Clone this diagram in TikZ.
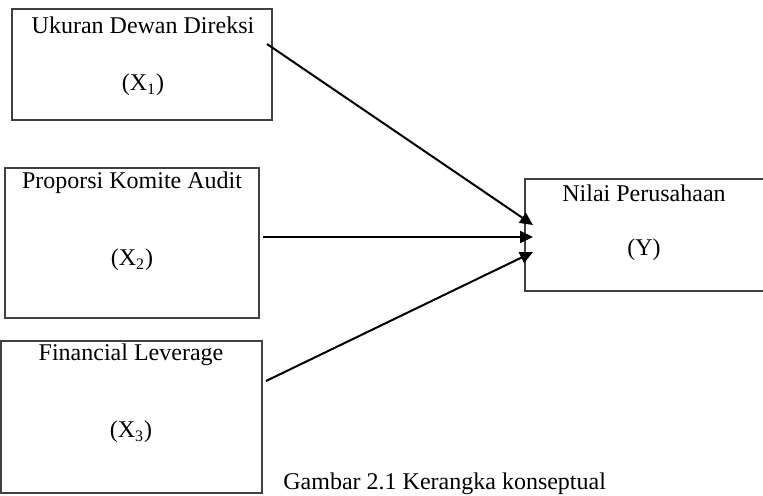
\documentclass[tikz,border=0pt]{standalone}
\usepackage{fontspec}
\setmainfont{Liberation Serif}
\usepackage{xcolor}
\usepackage{tikz}
\usetikzlibrary{arrows}
\usetikzlibrary{arrows.meta}

\begin{document}
\begin{tikzpicture}[x=0.5pt, y=-0.5pt,
    box/.style={draw=black!75, line width=0.7pt, rectangle, inner sep=0pt},
    lbl/.style={font=\fontsize{12}{14}\selectfont, inner sep=0pt},
    arr/.style={line width=1pt, black, -{Triangle[length=6.5pt, width=6pt]}}]
    \useasboundingbox (0,0) rectangle (763,496);
    % variabel independen
    \begin{scope}
      \node[box, minimum width=130pt, minimum height=55.5pt] (x1) at (142,64.5) {};
      \node[lbl] (x1t) at (143,25) {Ukuran Dewan Direksi};
      \node[lbl] (x1s) at (143,85) {(X\textsubscript{1})};
      \node[box, minimum width=127pt, minimum height=75pt] (x2) at (132,243) {};
      \node[lbl] (x2t) at (132,183) {Proporsi Komite Audit};
      \node[lbl] (x2s) at (132,260) {(X\textsubscript{2})};
      \node[box, minimum width=130.5pt, minimum height=76pt] (x3) at (131.5,417) {};
      \node[lbl] (x3t) at (131,355) {Financial Leverage};
      \node[lbl] (x3s) at (131,432) {(X\textsubscript{3})};
    \end{scope}
    % variabel dependen
    \begin{scope}
      \begin{scope}
        \clip (0,0) rectangle (763,496);
        \node[box, minimum width=122.5pt, minimum height=56pt] (y) at (647.5,235) {};
      \end{scope}
      \node[lbl] (yt) at (644,193) {Nilai Perusahaan};
      \node[lbl] (ys) at (644,250) {(Y)};
    \end{scope}
    % panah
    \coordinate (a1) at (267,44);
    \coordinate (a2) at (263,237);
    \coordinate (a3) at (266,381);
    \coordinate (b1) at (533,225);
    \coordinate (b2) at (533,237);
    \coordinate (b3) at (533,252);
    \draw[arr] (a1) -- (b1);
    \draw[arr] (a2) -- (b2);
    \draw[arr] (a3) -- (b3);
    \node[lbl, anchor=west] (cap) at (283,484) {Gambar 2.1 Kerangka konseptual};
  \end{tikzpicture}
\end{document}
